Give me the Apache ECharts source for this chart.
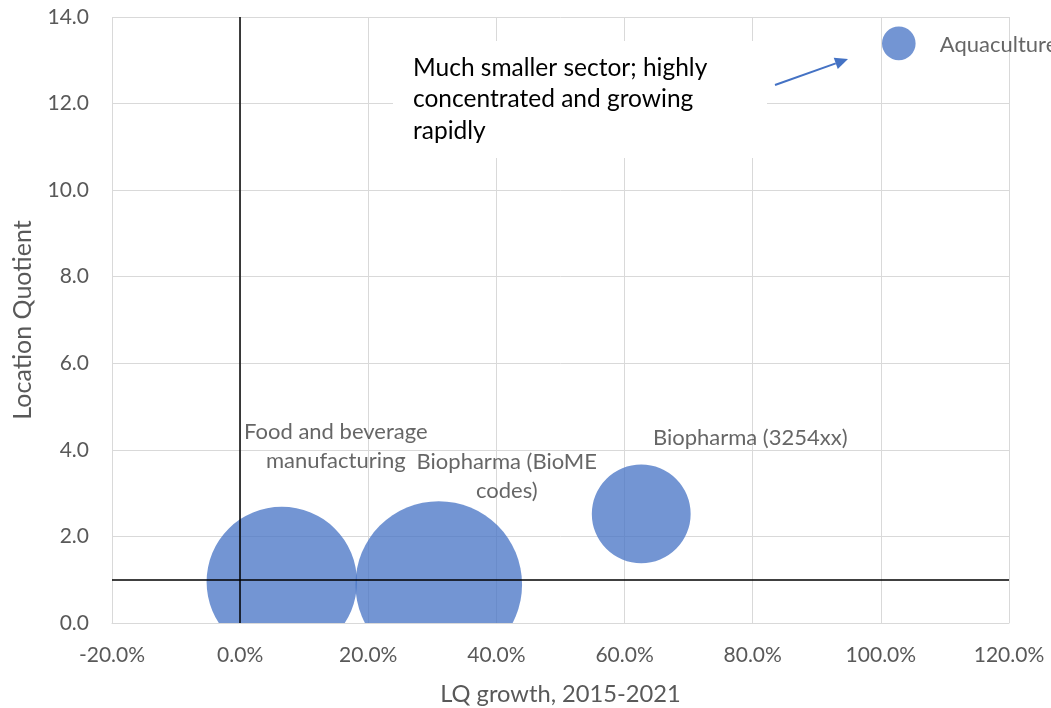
<!DOCTYPE html>
<html>
<head>
<meta charset="utf-8">
<script src="https://cdn.jsdelivr.net/npm/echarts@6/dist/echarts.min.js"></script>
<style>
  html, body { margin: 0; padding: 0; background: #fff; }
  #chart { width: 1051px; height: 708px; }
</style>
</head>
<body>
<div id="chart"></div>
<script>
// ---- data ----
const sectors = ['Food and beverage\nmanufacturing', 'Biopharma (BioME\ncodes)', 'Biopharma (3254xx)', 'Aquaculture'];
const lqGrowth = [6.5, 31.0, 62.6, 102.8];      // % LQ growth, 2015-2021
const locationQuotient = [0.95, 0.89, 2.52, 13.39];
const bubbleSize = [22000, 27000, 9500, 1100];   // relative sector size
const xTicks = [-20, 0, 20, 40, 60, 80, 100, 120];
const yTicks = [0, 2, 4, 6, 8, 10, 12, 14];
const annotationText = 'Much smaller sector; highly\nconcentrated and growing\nrapidly';

// ---- layout / style (not data) ----
const FONT = 'Lato';
const MAX_R = 83.3;
const maxSize = Math.max(...bubbleSize);
const labelLayout = [
  { offset: [54, -135], align: 'center' },
  { offset: [68, -108], align: 'center' },
  { offset: [109, -76], align: 'center' },
  { offset: [41, 2], align: 'left' }
];

const chart = echarts.init(document.getElementById('chart'), null, { renderer: 'canvas' });

const pts = lqGrowth.map((x, i) => [x, locationQuotient[i], bubbleSize[i]]);

// arrow geometry (annotation)
const a0 = [775, 85], a1 = [848, 59];
const ang = Math.atan2(a1[1] - a0[1], a1[0] - a0[0]);
const hl = 13, hw = 6;
const base = [a1[0] - hl * Math.cos(ang), a1[1] - hl * Math.sin(ang)];
const headPts = [
  a1,
  [base[0] + hw * Math.sin(ang), base[1] - hw * Math.cos(ang)],
  [base[0] - hw * Math.sin(ang), base[1] + hw * Math.cos(ang)]
];

const option = {
  animation: false,
  backgroundColor: '#fff',
  textStyle: { fontFamily: FONT },
  grid: { left: 112, right: 42, top: 17, bottom: 85, containLabel: false, outerBoundsMode: 'none' },
  xAxis: {
    type: 'value',
    min: xTicks[0], max: xTicks[xTicks.length - 1], interval: 20,
    name: 'LQ growth, 2015-2021',
    nameLocation: 'middle', nameGap: 59,
    nameTextStyle: { color: '#595959', fontSize: 23.7, fontFamily: FONT },
    axisLine: { show: true, lineStyle: { color: '#d9d9d9', width: 1 } },
    axisTick: { show: false },
    axisLabel: { color: '#595959', fontSize: 21, fontFamily: FONT, margin: 22,
      formatter: v => v.toFixed(1) + '%' },
    splitLine: { show: true, lineStyle: { color: '#d9d9d9', width: 1 } }
  },
  yAxis: {
    type: 'value',
    min: yTicks[0], max: yTicks[yTicks.length - 1], interval: 2,
    name: 'Location Quotient',
    nameLocation: 'middle', nameGap: 77, nameRotate: 90,
    nameTextStyle: { color: '#595959', fontSize: 25, fontFamily: FONT },
    axisLine: { show: false },
    axisTick: { show: false },
    axisLabel: { color: '#595959', fontSize: 21, fontFamily: FONT, margin: 23,
      formatter: v => v.toFixed(1) },
    splitLine: { show: true, lineStyle: { color: '#d9d9d9', width: 1 } }
  },
  series: [
    {
      type: 'line', data: [], z: 1, silent: true,
      markLine: {
        silent: true, symbol: ['none', 'none'],
        label: { show: false },
        lineStyle: { color: '#000', width: 1.5, type: 'solid' },
        data: [{ xAxis: 0 }, { yAxis: 1 }]
      }
    },
    {
      type: 'custom', z: 2, clip: true,
      data: pts,
      renderItem: (params, api) => {
        const p = api.coord([api.value(0), api.value(1)]);
        const r = MAX_R * Math.sqrt(api.value(2) / maxSize);
        return {
          type: 'circle',
          shape: { cx: p[0], cy: p[1], r: r },
          style: { fill: 'rgba(68,114,196,0.75)' }
        };
      }
    },
    {
      type: 'scatter', z: 3, symbolSize: 1, silent: true,
      itemStyle: { color: 'transparent' },
      data: pts.map((p, i) => ({
        value: [p[0], p[1]],
        label: {
          show: true, position: 'inside',
          offset: labelLayout[i].offset, align: labelLayout[i].align,
          verticalAlign: 'middle',
          formatter: sectors[i],
          color: '#404040', fontSize: 22, fontFamily: FONT, lineHeight: 29
        }
      }))
    }
  ],
  graphic: [
    {
      type: 'rect', z: 50,
      shape: { x: 393, y: 41, width: 374, height: 117 },
      style: { fill: '#fff' }
    },
    {
      type: 'text', z: 51, left: 413, top: 52,
      style: { text: annotationText, fill: '#000', fontSize: 24.5, fontFamily: FONT, lineHeight: 31.5 }
    },
    {
      type: 'line', z: 51,
      shape: { x1: a0[0], y1: a0[1], x2: base[0], y2: base[1] },
      style: { stroke: '#4472C4', lineWidth: 2 }
    },
    {
      type: 'polygon', z: 51,
      shape: { points: headPts },
      style: { fill: '#4472C4' }
    }
  ]
};
chart.setOption(option);
</script>
</body>
</html>
